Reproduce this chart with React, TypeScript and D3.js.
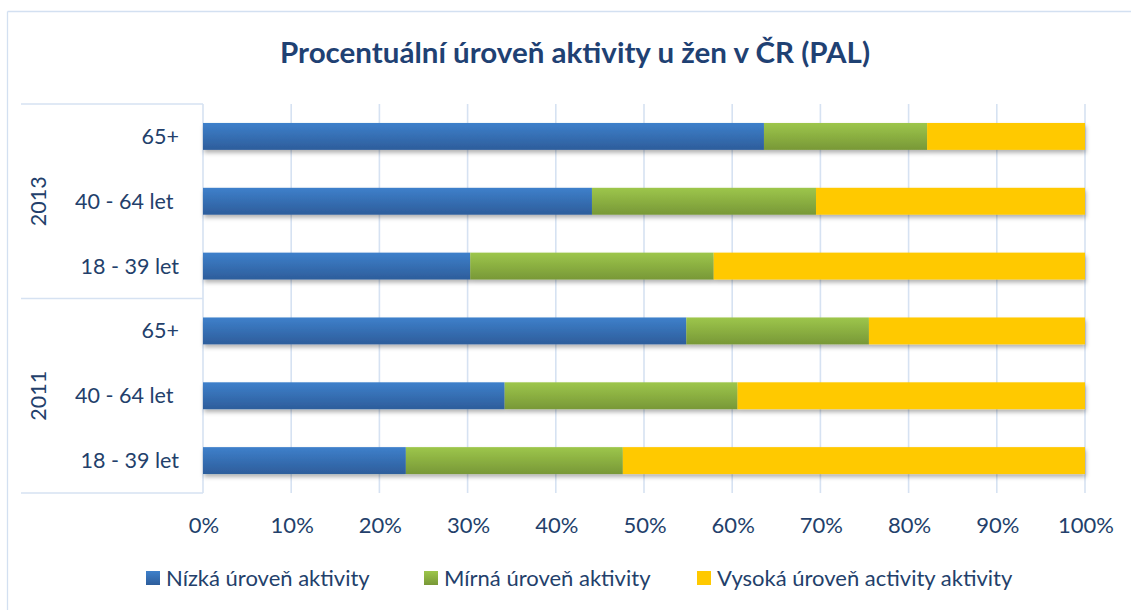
import React from "react";
import * as d3 from "d3";

const groups = ["2013", "2011"];
const ageGroups = ["65+", "40 - 64 let ", "18 - 39 let"];
// values per group, in ageGroups order (65+, 40-64, 18-39)
const nizka2013 = [63.6, 44.1, 30.3];
const mirna2013 = [18.5, 25.4, 27.6];
const vysoka2013 = [17.9, 30.5, 42.1];
const nizka2011 = [54.8, 34.2, 23.0];
const mirna2011 = [20.7, 26.4, 24.6];
const vysoka2011 = [24.5, 39.4, 52.4];
const seriesNames = ["Nízká úroveň aktivity", "Mírná úroveň aktivity", "Vysoká úroveň activity aktivity"];
const seriesKeys = ["nizka", "mirna", "vysoka"];
const tickValues = [0, 0.1, 0.2, 0.3, 0.4, 0.5, 0.6, 0.7, 0.8, 0.9, 1];
const title = "Procentuální úroveň aktivity u žen v ČR (PAL)";

const W = 1131;
const H = 610;
const plot = { left: 203, right: 1085, top: 104, bottom: 493 };
const textColor = "#233f6b";
const gridColor = "#d6e2f2";
const font = "Lato, 'Open Sans', sans-serif";

type Row = { key: string; group: string; age: string; nizka: number; mirna: number; vysoka: number };

const rows: Row[] = [];
groups.forEach((g) => {
  const n = g === "2013" ? nizka2013 : nizka2011;
  const m = g === "2013" ? mirna2013 : mirna2011;
  const v = g === "2013" ? vysoka2013 : vysoka2011;
  ageGroups.forEach((a, i) => {
    rows.push({ key: g + "|" + a, group: g, age: a, nizka: n[i], mirna: m[i], vysoka: v[i] });
  });
});

const App: React.FC = () => {
  const x = d3.scaleLinear().domain([0, 1]).range([plot.left, plot.right]);
  const y = d3
    .scaleBand()
    .domain(rows.map((r) => r.key))
    .range([plot.top, plot.bottom])
    .paddingInner(0.585)
    .paddingOuter(0.2925);

  const stacked = d3
    .stack<Row>()
    .keys(seriesKeys)
    .offset(d3.stackOffsetExpand)(rows);

  const fills = ["url(#gBlue)", "url(#gGreen)", "#ffc900"];
  const fmt = d3.format(".0%");
  const groupMid = (g: string) => {
    const ks = rows.filter((r) => r.group === g).map((r) => r.key);
    const top = y(ks[0])! - (y.step() * y.paddingInner()) / 2;
    const bot = y(ks[ks.length - 1])! + y.bandwidth() + (y.step() * y.paddingInner()) / 2;
    return (top + bot) / 2;
  };
  const sepY = (plot.top + plot.bottom) / 2;

  const legendX = [146, 424, 697];

  return (
    <div style={{ position: "fixed", left: 0, top: 0, background: "#fff" }}>
      <svg width={W} height={H} style={{ display: "block", fontFamily: font }}>
        <defs>
          <linearGradient id="gBlue" x1="0" y1="0" x2="0" y2="1">
            <stop offset="0" stopColor="#3e80cb" />
            <stop offset="1" stopColor="#2d5d9b" />
          </linearGradient>
          <linearGradient id="gGreen" x1="0" y1="0" x2="0" y2="1">
            <stop offset="0" stopColor="#9dc64b" />
            <stop offset="1" stopColor="#789837" />
          </linearGradient>
          <filter id="shadow" x="-5%" y="-30%" width="110%" height="180%">
            <feDropShadow dx="1" dy="3" stdDeviation="2.2" floodColor="#000" floodOpacity="0.3" />
          </filter>
        </defs>
        <rect x={0} y={0} width={W} height={H} fill="#fff" />
        {/* chart frame */}
        <line x1={7.5} x2={W} y1={11.5} y2={11.5} stroke="#d3e0f1" strokeWidth={1.3} />
        <line x1={7.5} x2={7.5} y1={11.5} y2={H} stroke="#d3e0f1" strokeWidth={1.3} />

        <text
          x={575}
          y={63}
          textAnchor="middle"
          fontSize={28.5}
          fontWeight={700}
          fill="#1f4173"
          textLength={590}
          lengthAdjust="spacingAndGlyphs"
        >
          {title}
        </text>

        {/* gridlines */}
        {tickValues.map((t) => (
          <line key={t} x1={x(t)} x2={x(t)} y1={plot.top} y2={plot.bottom} stroke={gridColor} strokeWidth={1.6} />
        ))}

        {/* category axis lines */}
        {[plot.top, sepY, plot.bottom].map((yy, i) => (
          <line key={i} x1={21} x2={plot.left} y1={yy} y2={yy} stroke={gridColor} strokeWidth={1.6} />
        ))}

        {/* bars */}
        <g filter="url(#shadow)">
          {stacked.map((s, si) =>
            s.map((d, i) => (
              <rect
                key={si + "-" + i}
                x={x(d[0])}
                y={y(rows[i].key)}
                width={x(d[1]) - x(d[0])}
                height={y.bandwidth()}
                fill={fills[si]}
              />
            ))
          )}
        </g>

        {/* category labels */}
        {rows.map((r) => (
          <text
            key={r.key}
            x={179}
            y={y(r.key)! + y.bandwidth() / 2}
            dy="0.35em"
            textAnchor="end"
            fontSize={21.5}
            fill={textColor}
            style={{ whiteSpace: "pre" }}
          >
            {r.age}
          </text>
        ))}
        {groups.map((g) => (
          <text
            key={g}
            transform={`translate(38,${groupMid(g)}) rotate(-90)`}
            textAnchor="middle"
            dy="0.35em"
            fontSize={21.5}
            fill={textColor}
          >
            {g}
          </text>
        ))}

        {/* x tick labels */}
        {tickValues.map((t) => (
          <text key={"l" + t} x={x(t) + 1} y={533} textAnchor="middle" fontSize={22} fill={textColor}>
            {fmt(t)}
          </text>
        ))}

        {/* legend */}
        {seriesNames.map((n, i) => (
          <g key={n}>
            <rect x={legendX[i]} y={571} width={14} height={14} fill={fills[i]} />
            <text x={legendX[i] + 20} y={585.5} fontSize={22} fill={textColor}>
              {n}
            </text>
          </g>
        ))}
      </svg>
    </div>
  );
};

export default App;
